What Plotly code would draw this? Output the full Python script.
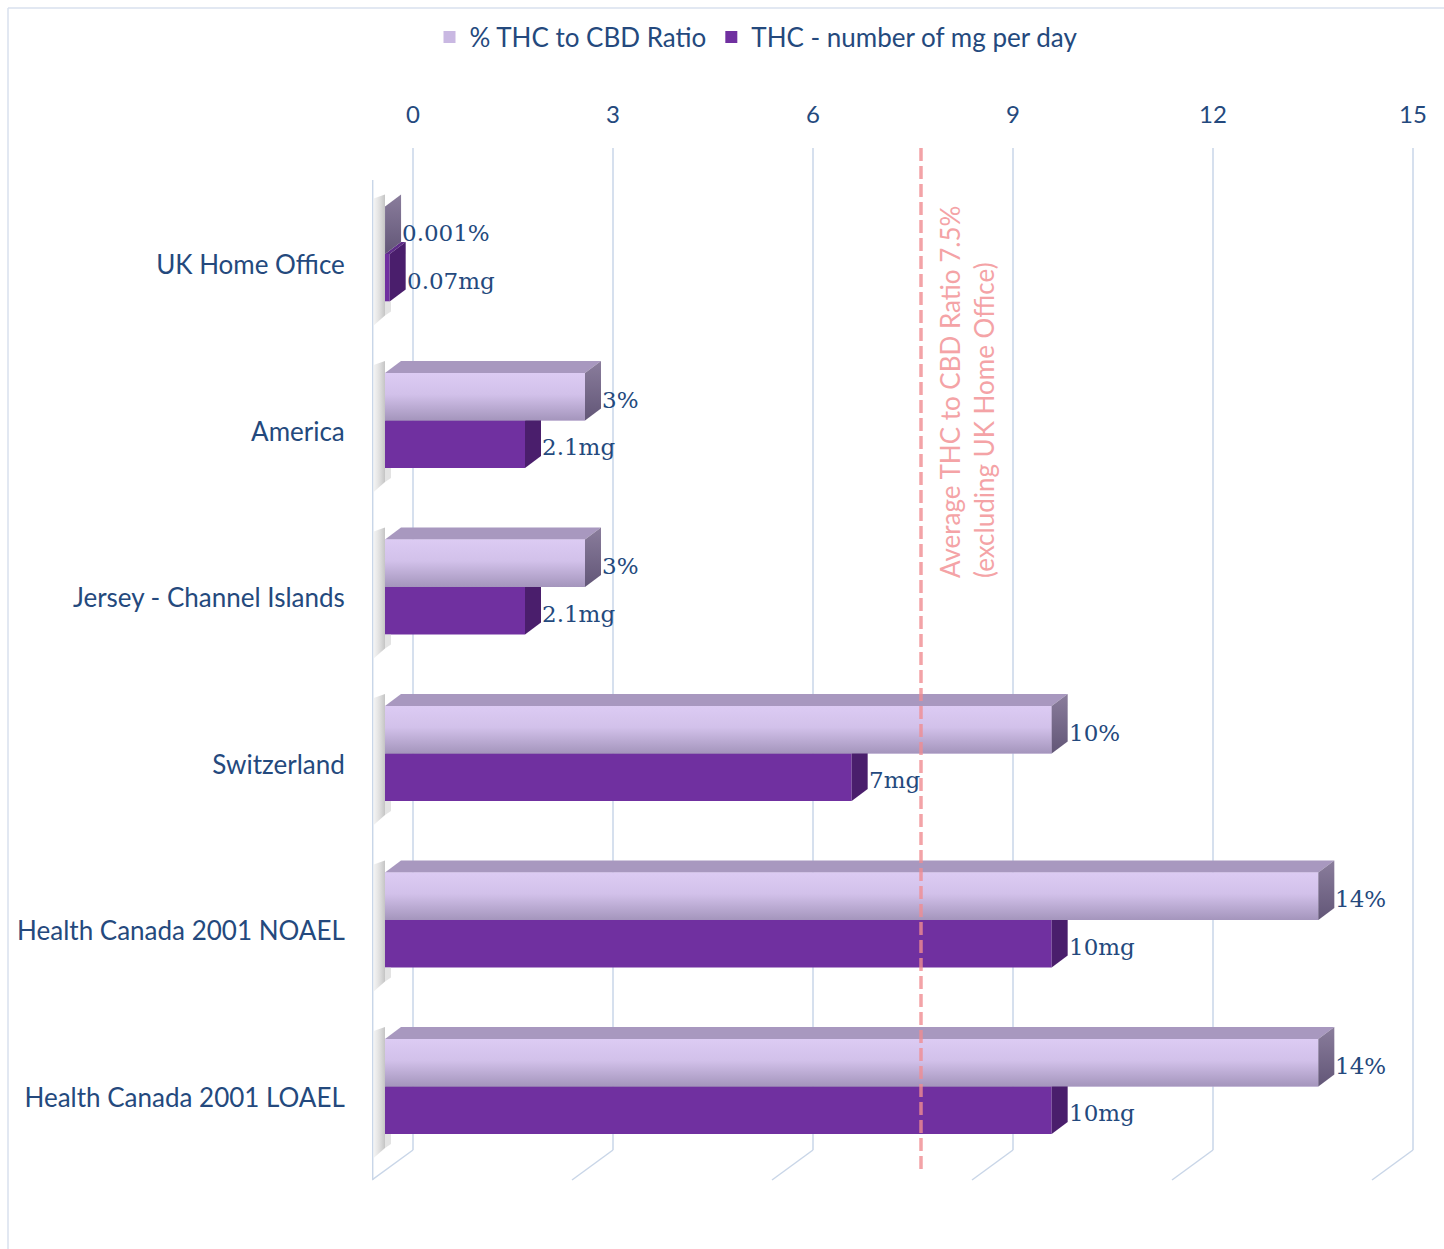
import plotly.graph_objects as go

# ---------------- data ----------------
categories = ["UK Home Office", "America", "Jersey - Channel Islands", "Switzerland",
              "Health Canada 2001 NOAEL", "Health Canada 2001 LOAEL"]
ratio_pct = [0.001, 3, 3, 10, 14, 14]
thc_mg = [0.07, 2.1, 2.1, 7, 10, 10]
ratio_labels = ["0.001%", "3%", "3%", "10%", "14%", "14%"]
mg_labels = ["0.07mg", "2.1mg", "2.1mg", "7mg", "10mg", "10mg"]
x_ticks = [0, 3, 6, 9, 12, 15]
series_names = ["% THC to CBD Ratio", "THC - number of mg per day"]
avg_text = "Average THC to CBD Ratio 7.5%<br>(excluding UK Home Office)"

# ---------------- geometry / style ----------------
W, H = 1444, 1249
L, R, T, B = 372, 14, 148, 67
XPX = 3 / 200.0          # axis units per pixel (x)
YPX = 1 / 166.5          # axis units per pixel (y)
X0 = -41 * XPX
X1 = X0 + (W - L - R) * XPX
Y_TOP = -(265 - T) * YPX
Y_BOT = Y_TOP + (H - T - B) * YPX
BASE = -28 * XPX         # front face of bars
DX = 16 * XPX
DY = -12 * YPX
BW = 47.5 * YPX
OFF_L = -34.75 * YPX
OFF_D = 12.75 * YPX
BACK_Y = Y_TOP + (1150 - T) * YPX
FRONT_Y = Y_TOP + (1180 - T) * YPX
AVG_X = (921 - 413) * XPX

NAVY = "#24497d"
GRID = "#c9d6e8"
DARK = "#7030a0"

fig = go.Figure()

# real bars (also provide legend entries)
fig.add_trace(go.Bar(orientation="h", y=[i + OFF_L for i in range(6)], x=ratio_pct,
                     base=BASE, width=BW, marker=dict(color="#c9b8e2", line=dict(width=0)),
                     name=series_names[0], hoverinfo="skip"))
fig.add_trace(go.Bar(orientation="h", y=[i + OFF_D for i in range(6)], x=thc_mg,
                     base=BASE, width=BW, marker=dict(color=DARK, line=dict(width=0)),
                     name=series_names[1], hoverinfo="skip"))


def poly(xs, ys, color=None, grad=None):
    kw = dict(x=xs + [xs[0]], y=ys + [ys[0]], fill="toself", mode="lines",
              line=dict(width=0), hoverinfo="skip", showlegend=False)
    if grad is not None:
        kw["fillgradient"] = grad
    else:
        kw["fillcolor"] = color
    fig.add_trace(go.Scatter(**kw))


for i in range(6):
    lt = i + OFF_L - BW / 2
    lb = i + OFF_L + BW / 2
    dt = i + OFF_D - BW / 2
    db = i + OFF_D + BW / 2
    vr = BASE + ratio_pct[i]
    vm = BASE + thc_mg[i]
    # shadow on the left wall
    poly([X0 + 0.025, BASE, BASE, X0 + 0.025],
         [lt + DY + 4 * YPX, lt + DY, db + 14 * YPX, db + 24 * YPX],
         grad=dict(type="horizontal", colorscale=[[0, "rgba(236,236,236,0.6)"], [1, "rgba(196,196,196,1)"]]))
    poly([BASE, BASE + 6 * XPX, BASE + 6 * XPX, BASE], [db, db, db + 10 * YPX, db + 14 * YPX],
         color="rgba(215,215,215,0.7)")
    # dark bar top face (mostly hidden)
    poly([BASE, vm, vm + DX, BASE + DX], [dt, dt, dt + DY, dt + DY], color="#5e2c88")
    # dark side face
    poly([vm, vm, vm + DX, vm + DX], [dt, db, db + DY, dt + DY], color="#4a1e6c")
    # light top face
    poly([BASE, vr, vr + DX, BASE + DX], [lt, lt, lt + DY, lt + DY], color="#a898bf")
    # light front face (gradient)
    poly([BASE, vr, vr, BASE], [lt, lt, lb, lb],
         grad=dict(type="vertical", start=lt, stop=lb,
                   colorscale=[[0, "#dccbf3"], [0.45, "#d2c1ea"], [1, "#a495bc"]]))
    # light side face
    poly([vr, vr, vr + DX, vr + DX], [lt, lb, lb + DY, lt + DY],
         grad=dict(type="vertical", start=lt + DY, stop=lb,
                   colorscale=[[0, "#8a7d9c"], [1, "#625677"]]))

shapes = []
# gridlines (back wall + floor diagonals)
for t in x_ticks:
    shapes.append(dict(type="line", x0=t, x1=t, y0=Y_TOP, y1=BACK_Y, xref="x", yref="y",
                       line=dict(color=GRID, width=1.5), layer="below"))
    shapes.append(dict(type="line", x0=t, x1=t + X0, y0=BACK_Y, y1=FRONT_Y, xref="x", yref="y",
                       line=dict(color=GRID, width=1.5), layer="below"))
# left wall edge
shapes.append(dict(type="line", x0=X0 + 0.01, x1=X0 + 0.01, y0=Y_TOP + 32 * YPX, y1=FRONT_Y,
                   xref="x", yref="y", line=dict(color=GRID, width=1.5), layer="below"))
# average line
shapes.append(dict(type="line", x0=AVG_X, x1=AVG_X, y0=Y_TOP, y1=Y_TOP + (1172 - T) * YPX,
                   xref="x", yref="y", line=dict(color="rgba(240,140,145,0.8)", width=3.5, dash="13px,5px"),
                   layer="above"))
# outer border
px = lambda p: (p - L) / (W - L - R)
py = lambda p: 1 - (p - T) / (H - T - B)
shapes.append(dict(type="line", x0=px(8), x1=px(W), y0=py(8), y1=py(8), xref="paper", yref="paper",
                   line=dict(color="#d8e1ee", width=1.5)))
shapes.append(dict(type="line", x0=px(8), x1=px(8), y0=py(8), y1=py(H), xref="paper", yref="paper",
                   line=dict(color="#d8e1ee", width=1.5)))

annotations = []
for i in range(6):
    annotations.append(dict(x=BASE + ratio_pct[i] + DX - 0.015, y=i + OFF_L + 3 * YPX, text=ratio_labels[i],
                            xanchor="left", yanchor="middle", showarrow=False,
                            font=dict(family="DejaVu Serif", size=23, color=NAVY)))
    annotations.append(dict(x=BASE + thc_mg[i] + DX - 0.015, y=i + OFF_D + 3 * YPX, text=mg_labels[i],
                            xanchor="left", yanchor="middle", showarrow=False,
                            font=dict(family="DejaVu Serif", size=23, color=NAVY)))
annotations.append(dict(x=(967 - 413) * XPX, y=Y_TOP + (580 - T) * YPX, text=avg_text, textangle=-90,
                        xanchor="center", yanchor="bottom", align="left", showarrow=False,
                        font=dict(family="Lato", size=26, color="#f4a3a6")))

fig.update_layout(
    width=W, height=H, margin=dict(l=L, r=R, t=T, b=B),
    paper_bgcolor="white", plot_bgcolor="white",
    barmode="overlay", shapes=shapes, annotations=annotations,
    showlegend=True,
    legend=dict(orientation="h", x=px(756), y=py(37), xanchor="center", yanchor="middle",
                font=dict(family="Lato", size=26, color=NAVY), itemwidth=30, tracegroupgap=0),
    xaxis=dict(range=[X0, X1], side="top", tickvals=x_ticks, ticktext=[str(t) for t in x_ticks],
               showgrid=False, zeroline=False, showline=False, ticks="outside", ticklen=14,
               tickcolor="rgba(0,0,0,0)", tickfont=dict(family="Lato", size=24, color=NAVY),
               fixedrange=True),
    yaxis=dict(range=[Y_BOT, Y_TOP], tickvals=list(range(6)), ticktext=categories,
               showgrid=False, zeroline=False, showline=False, ticks="outside", ticklen=21,
               tickcolor="rgba(0,0,0,0)", tickfont=dict(family="Lato", size=26, color=NAVY),
               fixedrange=True),
)

fig.write_html("out.html")
